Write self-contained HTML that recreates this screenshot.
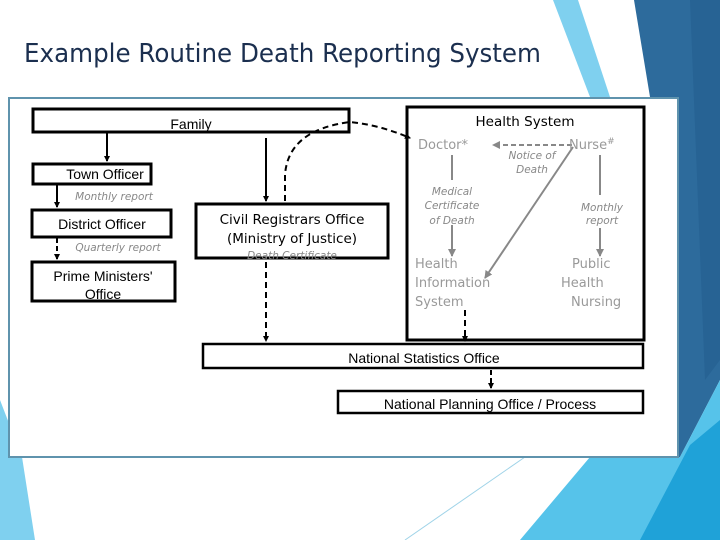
<!DOCTYPE html>
<html><head><style>
html,body{margin:0;padding:0;width:720px;height:540px;overflow:hidden;background:#fff;font-family:"Liberation Sans",sans-serif}
</style></head><body>
<svg width="720" height="540" viewBox="0 0 720 540" xmlns="http://www.w3.org/2000/svg" style="position:absolute;left:0;top:0">
<defs>
<marker id="ab" markerWidth="6" markerHeight="6" refX="5" refY="3" orient="auto" markerUnits="userSpaceOnUse"><path d="M0,0 L6,3 L0,6 z" fill="#000"/></marker>
<marker id="ag" markerWidth="8" markerHeight="8" refX="7" refY="4" orient="auto" markerUnits="userSpaceOnUse"><path d="M0,0 L8,4 L0,8 z" fill="#888"/></marker>
</defs>
<!-- background decoration -->
<polygon points="553,0 578,0 610,97 590,97" fill="#7fd0ef"/>
<polygon points="634,0 720,0 720,380 680,457 660,457 660,97 650,97" fill="#2d6b9c"/>
<polygon points="690,0 720,0 720,360 705,380" fill="#276394"/>
<polygon points="590,457 680,457 720,380 720,540 520,540" fill="#56c3ea"/>
<polygon points="720,420 720,540 640,540 690,445" fill="#1fa2d8"/>
<line x1="525" y1="457" x2="405" y2="540" stroke="#9fd3e8" stroke-width="1"/>
<polygon points="0,400 22,457 35,540 0,540" fill="#7fd0ef"/>
<text x="24" y="62" font-size="26" fill="#1b2f4f" font-family="DejaVu Sans, sans-serif" textLength="517" lengthAdjust="spacingAndGlyphs">Example Routine Death Reporting System</text>
<!-- main panel -->
<rect x="9" y="98" width="669" height="359" fill="#fff" stroke="#5f93ad" stroke-width="2"/>
<g fill="none" stroke="#000" stroke-width="3">
<rect x="33" y="109" width="316" height="23"/>
<rect x="407" y="107" width="237" height="233"/>
<rect x="33" y="164" width="118" height="20"/>
<rect x="32" y="210" width="139" height="27"/>
<rect x="32" y="262" width="143" height="39"/>
<rect x="196" y="204" width="192" height="54"/>
<rect x="203" y="344" width="440" height="24" stroke-width="2.5"/>
<rect x="338" y="391" width="305" height="22" stroke-width="2.5"/>
</g>
<!-- connectors -->
<g stroke="#000" stroke-width="2" fill="none">
<line x1="107" y1="133" x2="107" y2="161" marker-end="url(#ab)"/>
<line x1="57" y1="185" x2="57" y2="207" marker-end="url(#ab)"/>
<line x1="57" y1="238" x2="57" y2="259" stroke-dasharray="5,3" marker-end="url(#ab)"/>
<line x1="266" y1="138" x2="266" y2="201" marker-end="url(#ab)"/>
<path d="M285,201 L285,175 Q288,130 350,122 Q380,125 410,138" stroke-dasharray="6,4" marker-end="url(#ab)"/>
<line x1="266" y1="262" x2="266" y2="341" stroke-dasharray="6,4" marker-end="url(#ab)"/>
<line x1="465" y1="310" x2="465" y2="341" stroke-dasharray="6,4" marker-end="url(#ab)"/>
<line x1="491" y1="370" x2="491" y2="388" stroke-dasharray="5,3" marker-end="url(#ab)"/>
</g>
<g stroke="#888" stroke-width="2" fill="none">
<line x1="452" y1="155" x2="452" y2="180"/>
<line x1="452" y1="225" x2="452" y2="256" marker-end="url(#ag)"/>
<line x1="600" y1="155" x2="600" y2="195"/>
<line x1="600" y1="228" x2="600" y2="256" marker-end="url(#ag)"/>
<line x1="572" y1="145" x2="493" y2="145" stroke-dasharray="5,3" marker-end="url(#ag)"/>
<line x1="573" y1="147" x2="485" y2="278" marker-end="url(#ag)"/>
</g>
<!-- labels -->
<g font-family="Liberation Sans, sans-serif" font-size="14" fill="#000">
<text x="191" y="129" text-anchor="middle">Family</text>
<text x="105" y="179" text-anchor="middle">Town Officer</text>
<text x="102" y="229" text-anchor="middle">District Officer</text>
<text x="103" y="281" text-anchor="middle">Prime Ministers'</text>
<text x="103" y="299" text-anchor="middle">Office</text>
<text x="424" y="363" text-anchor="middle">National Statistics Office</text>
<text x="490" y="409" text-anchor="middle">National Planning Office / Process</text>
</g>
<g font-family="DejaVu Sans, sans-serif" font-size="13.5" fill="#000">
<text x="292" y="224" text-anchor="middle">Civil Registrars Office</text>
<text x="292" y="243" text-anchor="middle">(Ministry of Justice)</text>
<text x="525" y="126" text-anchor="middle">Health System</text>
</g>
<g font-family="DejaVu Sans, sans-serif" font-size="13" fill="#999">
<text x="418" y="149">Doctor*</text>
<text x="569" y="149">Nurse<tspan font-size="9" dy="-5">#</tspan></text>
<text x="415" y="268">Health</text>
<text x="415" y="287">Information</text>
<text x="415" y="306">System</text>
<text x="572" y="268">Public</text>
<text x="561" y="287">Health</text>
<text x="571" y="306">Nursing</text>
</g>
<g font-family="DejaVu Sans, sans-serif" font-size="10.5" font-style="italic" fill="#888">
<text x="114" y="200" text-anchor="middle">Monthly report</text>
<text x="118" y="251" text-anchor="middle">Quarterly report</text>
<text x="292" y="259" text-anchor="middle">Death Certificate</text>
<text x="452" y="195" text-anchor="middle">Medical</text>
<text x="452" y="209" text-anchor="middle">Certificate</text>
<text x="452" y="224" text-anchor="middle">of Death</text>
<text x="532" y="159" text-anchor="middle">Notice of</text>
<text x="532" y="173" text-anchor="middle">Death</text>
<text x="602" y="211" text-anchor="middle">Monthly</text>
<text x="602" y="224" text-anchor="middle">report</text>
</g>
</svg>
</body></html>
